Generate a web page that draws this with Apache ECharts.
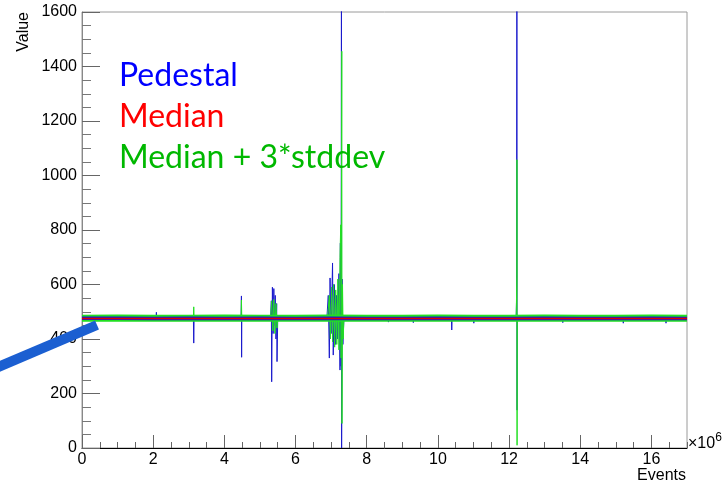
<!DOCTYPE html>
<html>
<head>
<meta charset="utf-8">
<script src="https://cdn.jsdelivr.net/npm/echarts@6/dist/echarts.min.js"></script>
<style>
  html, body { margin: 0; padding: 0; background: #ffffff; }
  #chart { width: 727px; height: 489px; }
</style>
</head>
<body>
<div id="chart"></div>
<script>
// Event counts are in units of 10^6.
const bandEvents = [0, 1, 2, 3, 4, 5, 6, 7, 8, 9, 10, 11, 12, 13, 14, 15, 16, 17];
const pedestalBand = [476, 476, 475, 476, 475, 476, 475, 476, 475, 475, 476, 475, 475, 476, 475, 475, 476, 475];
const medianBand = [475, 475, 475, 475, 475, 475, 475, 475, 475, 475, 475, 475, 475, 475, 475, 475, 475, 475];
const upperBand = [476, 477, 476, 476, 477, 476, 476, 477, 476, 476, 477, 476, 476, 477, 476, 476, 477, 476];

// Per-event excursions of the pedestal: [events, value]
const pedestalTrace = [
  [0, 476],
  [2.08, 476], [2.09, 498], [2.10, 476],
  [3.13, 476], [3.14, 385], [3.15, 476],
  [4.47, 476], [4.48, 558], [4.485, 333], [4.49, 476],
  [5.30, 476], [5.32, 540], [5.33, 243], [5.35, 590], [5.37, 420], [5.39, 585], [5.41, 450],
  [5.43, 560], [5.45, 400], [5.47, 530], [5.48, 317], [5.50, 476],
  [6.88, 476], [6.92, 560], [6.95, 330], [6.97, 624], [7.00, 420], [7.04, 679], [7.06, 341],
  [7.09, 600], [7.12, 380], [7.15, 560], [7.18, 400], [7.22, 640], [7.25, 286], [7.26, 752],
  [7.28, 300], [7.29, 1650], [7.295, 0], [7.31, 620], [7.33, 380], [7.36, 476],
  [8.60, 476], [8.61, 462], [8.62, 476],
  [9.30, 476], [9.31, 460], [9.32, 476],
  [10.38, 476], [10.39, 433], [10.40, 476],
  [11.00, 476], [11.01, 458], [11.02, 476],
  [12.20, 476], [12.21, 540], [12.22, 1650], [12.225, 139], [12.23, 476],
  [13.50, 476], [13.51, 460], [13.52, 476],
  [15.20, 476], [15.21, 458], [15.22, 476],
  [16.40, 476], [16.41, 458], [16.42, 476],
  [17, 476]
];

// Per-event excursions of median + 3*stddev: [events, value]
const upperTrace = [
  [0, 478],
  [3.13, 478], [3.14, 518], [3.15, 478],
  [4.47, 478], [4.48, 543], [4.49, 478],
  [5.30, 478], [5.33, 540], [5.36, 430], [5.39, 545], [5.42, 420], [5.45, 530], [5.48, 440], [5.50, 478],
  [6.90, 478], [6.95, 560], [6.98, 400], [7.01, 590], [7.04, 390], [7.07, 600], [7.10, 370],
  [7.13, 580], [7.16, 380], [7.19, 620], [7.22, 360], [7.25, 700], [7.27, 819], [7.28, 330],
  [7.30, 1456], [7.305, 90], [7.32, 600], [7.34, 400], [7.36, 478],
  [12.20, 478], [12.22, 628], [12.222, 1058], [12.225, 10], [12.23, 478],
  [17, 478]
];

const yTicks = { min: 0, max: 1600, step: 200 };
const xTicks = { min: 0, max: 17, step: 2, minorStep: 0.5 };

const seriesNames = ['Pedestal', 'Median', 'Median + 3*stddev'];
const seriesColors = { Pedestal: '#1a1acc', Median: '#dd0000', 'Median + 3*stddev': '#22e022' };
const legendColors = { Pedestal: '#0000ff', Median: '#ff0000', 'Median + 3*stddev': '#00b800' };

const toPairs = (xs, ys) => xs.map((x, i) => [x, ys[i]]);

const chart = echarts.init(document.getElementById('chart'), null, { renderer: 'canvas' });

const axisFont = '"Liberation Sans", Arial, Helvetica, sans-serif';

chart.setOption({
  animation: false,
  backgroundColor: '#ffffff',
  grid: {
    left: 82, right: 40, top: 12, bottom: 41,
    show: true, borderColor: '#9a9a9a', borderWidth: 1, backgroundColor: 'transparent'
  },
  legend: {
    orient: 'vertical',
    left: 109,
    top: 50,
    itemWidth: 0,
    itemHeight: 0,
    itemGap: 0,
    icon: 'rect',
    selectedMode: false,
    data: seriesNames.map(n => ({
      name: n,
      itemStyle: { opacity: 0 },
      textStyle: { color: legendColors[n] }
    })),
    textStyle: { fontFamily: 'Lato, "Open Sans", sans-serif', fontSize: 32, lineHeight: 41 }
  },
  xAxis: [
    {
      type: 'value',
      min: xTicks.min, max: xTicks.max, interval: xTicks.step,
      position: 'bottom',
      axisLine: { show: true, onZero: false, lineStyle: { color: '#000', width: 1 } },
      axisTick: { show: true, inside: true, length: 13, lineStyle: { color: '#666' } },
      axisLabel: {
        show: true, margin: 4, showMaxLabel: false,
        color: '#000', fontFamily: axisFont, fontSize: 16,
        formatter: v => String(v)
      },
      splitLine: { show: false }
    },
    {
      type: 'value',
      min: xTicks.min, max: xTicks.max, interval: xTicks.minorStep,
      position: 'bottom',
      axisLine: { show: false },
      axisTick: { show: true, inside: true, length: 6, lineStyle: { color: '#666' } },
      axisLabel: { show: false },
      splitLine: { show: false }
    }
  ],
  yAxis: {
    type: 'value',
    min: yTicks.min, max: yTicks.max, interval: yTicks.step,
    axisLine: { show: true, onZero: false, lineStyle: { color: '#888', width: 1 } },
    axisTick: { show: true, inside: true, length: 18, lineStyle: { color: '#666' } },
    minorTick: { show: true, splitNumber: 4, length: 9, lineStyle: { color: '#777' } },
    axisLabel: {
      margin: 5, color: '#000', fontFamily: axisFont, fontSize: 16,
      formatter: v => String(v)
    },
    splitLine: { show: false }
  },
  series: [
    {
      name: 'Pedestal', type: 'line', z: 2, symbol: 'none', silent: true,
      data: pedestalTrace,
      lineStyle: { color: seriesColors.Pedestal, width: 1 },
      itemStyle: { color: seriesColors.Pedestal }
    },
    {
      name: 'Median + 3*stddev', type: 'line', z: 3, symbol: 'none', silent: true,
      data: upperTrace,
      lineStyle: { color: seriesColors['Median + 3*stddev'], width: 1 },
      itemStyle: { color: seriesColors['Median + 3*stddev'] }
    },
    {
      name: 'Median + 3*stddev', type: 'line', z: 4, symbol: 'none', silent: true,
      data: toPairs(bandEvents, upperBand),
      lineStyle: { color: seriesColors['Median + 3*stddev'], width: 7 },
      itemStyle: { color: seriesColors['Median + 3*stddev'] }
    },
    {
      name: 'Pedestal', type: 'line', z: 5, symbol: 'none', silent: true,
      data: toPairs(bandEvents, pedestalBand),
      lineStyle: { color: seriesColors.Pedestal, width: 3.5 },
      itemStyle: { color: seriesColors.Pedestal }
    },
    {
      name: 'Median', type: 'line', z: 6, symbol: 'none', silent: true,
      data: toPairs(bandEvents, medianBand),
      lineStyle: { color: seriesColors.Median, width: 1.5 },
      itemStyle: { color: seriesColors.Median }
    }
  ],
  graphic: [
    {
      type: 'text', x: 24, y: 12, rotation: Math.PI / 2, z: 50,
      style: {
        text: 'Value', fontSize: 16, fontFamily: axisFont, fill: '#000',
        align: 'right', verticalAlign: 'middle'
      }
    },
    {
      type: 'text', x: 686, y: 476, z: 50,
      style: {
        text: 'Events', fontSize: 16, fontFamily: axisFont, fill: '#000',
        align: 'right', verticalAlign: 'middle'
      }
    },
    {
      type: 'text', x: 688, y: 442, z: 50,
      style: {
        text: '{b|×10}{sup|6}', fill: '#000',
        align: 'left', verticalAlign: 'middle',
        rich: {
          b: { fontSize: 16, fontFamily: axisFont, fill: '#000', verticalAlign: 'bottom' },
          sup: { fontSize: 12, fontFamily: axisFont, fill: '#000', verticalAlign: 'bottom', padding: [0, 0, 8, 0] }
        }
      }
    },
    {
      type: 'line', z: 100, silent: true,
      shape: { x1: -4, y1: 368, x2: 97, y2: 325 },
      style: { stroke: '#1b5fd1', lineWidth: 10, lineCap: 'butt' }
    }
  ]
});
</script>
</body>
</html>
